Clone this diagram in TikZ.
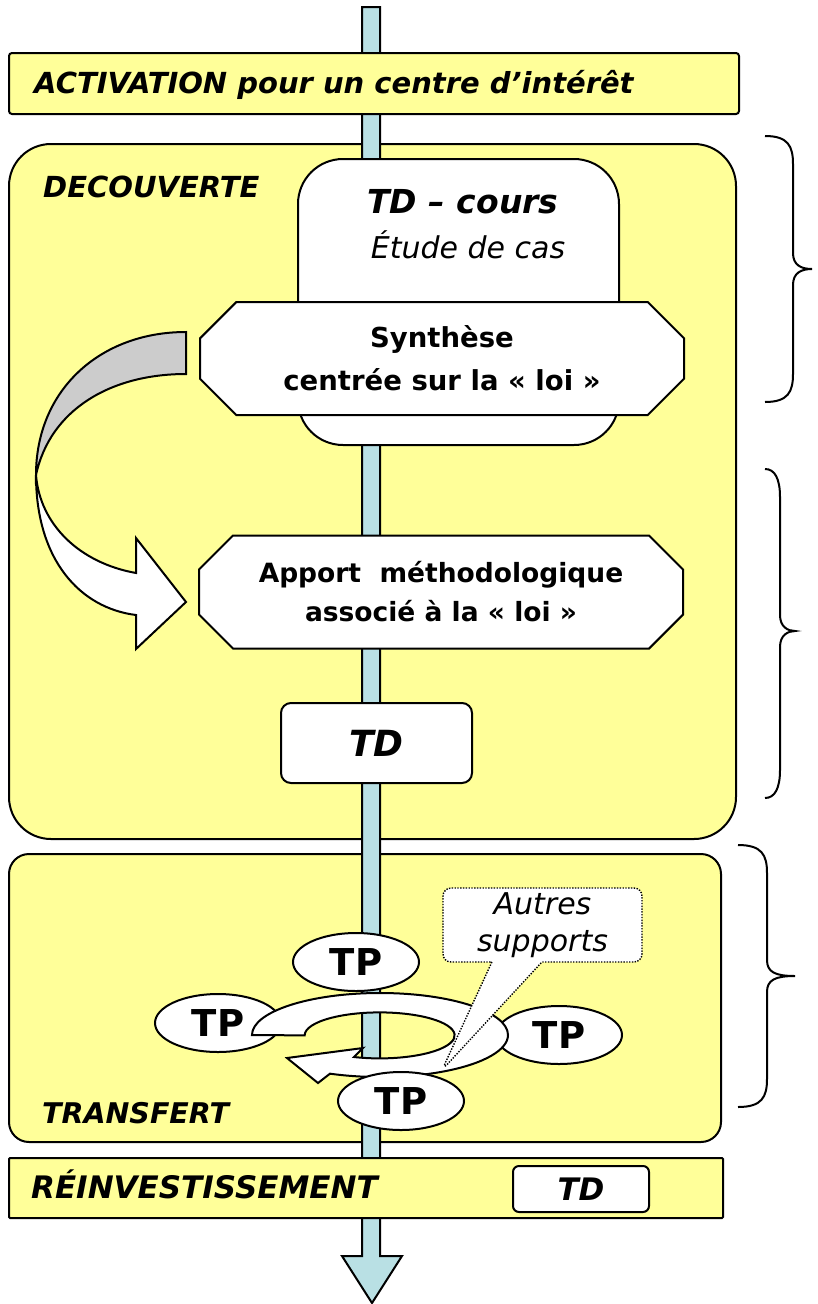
\documentclass[tikz,border=0pt]{standalone}
\usepackage{fontspec}
\setmainfont{DejaVu Sans}
\usetikzlibrary{shapes.misc,shapes.geometric,shapes.callouts}

\definecolor{jaune}{RGB}{255,255,153}
\definecolor{bleu}{RGB}{185,224,228}
\definecolor{gris}{RGB}{204,204,204}

\tikzset{
  trait/.style={line width=2pt},
  zone/.style={trait, draw, fill=jaune, anchor=north west, inner sep=0pt},
  boite/.style={trait, draw, fill=white, inner sep=0pt},
  octo/.style={chamfered rectangle, chamfered rectangle xsep=33pt, trait, draw, fill=white,
    align=center, inner sep=0pt, minimum width=484pt, minimum height=113pt},
  tp/.style={ellipse, trait, draw, fill=white, inner sep=0pt, minimum width=126pt,
    minimum height=58pt, font=\bfseries\fontsize{37}{37}\selectfont},
  titre/.style={anchor=base west, inner sep=0pt, font=\bfseries\itshape\fontsize{#1}{#1}\selectfont},
  titre/.default=29,
}

\begin{document}
\begin{tikzpicture}[x=1pt, y=-1pt]
  \useasboundingbox (0,0) rectangle (817,1304);
  % Zones
  \node[zone, rounded corners=42pt, minimum width=727pt, minimum height=695pt] (decouverte) at (8,143) {};
  \node[zone, rounded corners=20pt, minimum width=712pt, minimum height=288pt] (transfert) at (8,853) {};
  % Fleche centrale
  \coordinate (bas) at (372,1303);
  \draw[trait, fill=bleu] (362,7) -- (380,7) -- (380,1256) -- (402,1256) -- (bas)
    -- (342,1256) -- (362,1256) -- cycle;
  % Bandeaux
  \node[zone, rounded corners=3pt, minimum width=730pt, minimum height=61pt] (activation) at (8,52) {};
  \node[zone, rounded corners=1pt, minimum width=714pt, minimum height=60pt] (reinv) at (8,1157) {};
  % Decouverte
  \node[boite, rounded corners=45pt, minimum width=321pt, minimum height=286pt] (tdcours) at (458.5,302) {};
  \node[octo, font=\bfseries\fontsize{27.5}{43}\selectfont] (synthese) at (442,358.5)
    {Synthèse\\centrée sur la « loi »};
  \node[octo, font=\bfseries\fontsize{26.5}{39}\selectfont] (apport) at (441,592)
    {Apport\ \ méthodologique\\associé à la « loi »};
  \node[boite, rounded corners=10pt, minimum width=191pt, minimum height=80pt,
    font=\bfseries\itshape\fontsize{36}{36}\selectfont] (td) at (376.5,743) {TD};
  \node[anchor=base, font=\bfseries\itshape\fontsize{33}{33}\selectfont] (tdtitre) at (463,213) {TD – cours};
  \node[anchor=base, font=\itshape\fontsize{30}{30}\selectfont] (etude) at (468,258) {Étude de cas};
  % Fleche courbe
  \draw[trait, fill=gris] (186,332) .. controls (100,332) and (36,390) .. (36,475)
    .. controls (50,410) and (110,374) .. (186,374) -- cycle;
  \draw[trait, fill=white] (36,475) .. controls (36,560) and (80,608) .. (136,615)
    -- (136,649) -- (186,602) -- (136,538) -- (136,573)
    .. controls (80,563) and (40,525) .. (36,475);
  % Transfert
  \node[tp] (tp1) at (356,962) {TP};
  \node[tp] (tp2) at (218,1023) {TP};
  \node[tp] (tp3) at (559,1035) {TP};
  \draw[trait, fill=white] (252,1035)
    arc[start angle=180, end angle=-113, x radius=128pt, y radius=42pt]
    -- (318,1083) -- (287,1058) -- (363,1048) -- (354,1057)
    arc[start angle=-110, end angle=180, x radius=75pt, y radius=23pt] -- cycle;
  \node[rectangle callout, draw, fill=white, line width=1.4pt, dash pattern=on 1.4pt off 1.4pt,
    rounded corners=8pt, minimum width=199pt, minimum height=74pt, inner sep=0pt,
    callout absolute pointer={(442,1070)}, callout pointer width=50pt, align=center,
    font=\itshape\fontsize{30}{37}\selectfont] (autres) at (542.5,925) {Autres\\supports};
  \node[tp] (tp4) at (401,1101) {TP};
  % Titres
  \node[titre] at (34,93) {ACTIVATION pour un centre d’intérêt};
  \node[titre] at (43,197) {DECOUVERTE};
  \node[titre=28.5] at (42,1123) {TRANSFERT};
  \node[titre=31] at (31,1198) {RÉINVESTISSEMENT};
  \node[boite, rounded corners=6pt, minimum width=136pt, minimum height=46pt,
    font=\bfseries\itshape\fontsize{31}{31}\selectfont] (tdreinv) at (581,1189) {TD};
  % Accolades
  \foreach \xa/\xb/\xc/\ya/\yb/\yc in {765/793/812/136/269/402, 765/780/795/469/631/798,
      738/767/795/845/976/1107}
    \draw[trait] (\xa,\ya) .. controls (\xb-5,\ya) and (\xb,\ya+10) .. (\xb,\ya+28)
      -- (\xb,\yb-16) .. controls (\xb,\yb-4) and (\xb+8,\yb) .. (\xc,\yb)
      .. controls (\xb+8,\yb) and (\xb,\yb+4) .. (\xb,\yb+16)
      -- (\xb,\yc-28) .. controls (\xb,\yc-10) and (\xb-5,\yc) .. (\xa,\yc);
\end{tikzpicture}
\end{document}
